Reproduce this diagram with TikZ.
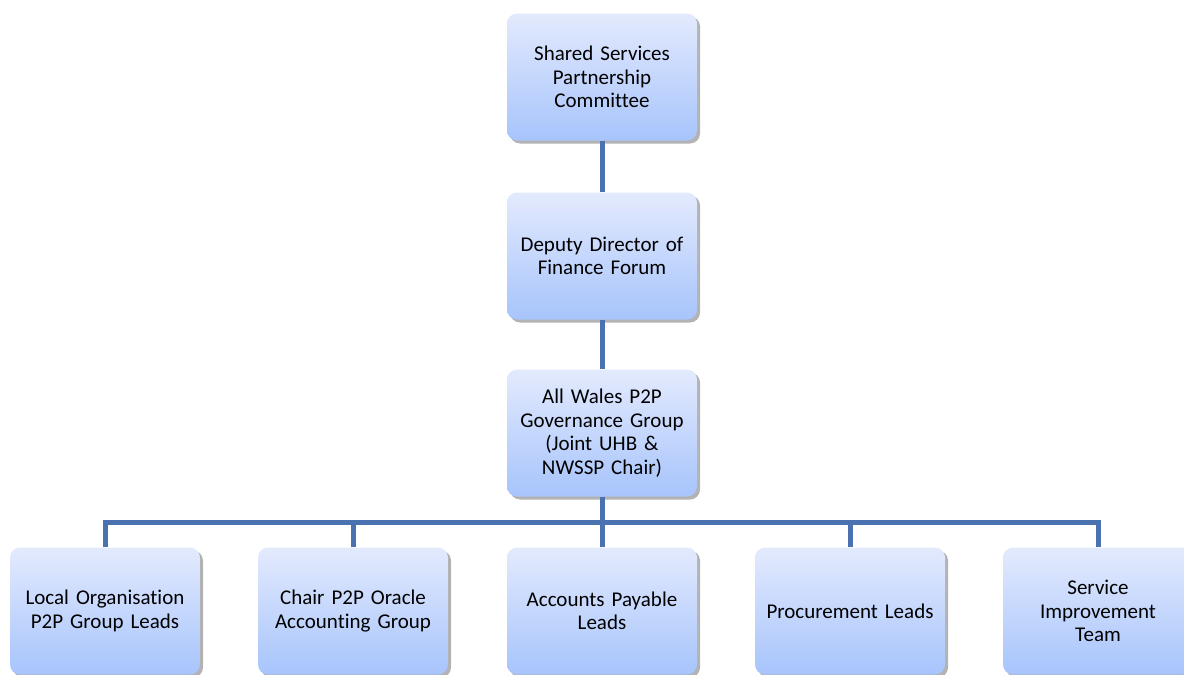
\documentclass[tikz,border=0pt]{standalone}
\usepackage{fontspec}
\setmainfont[Ligatures=NoCommon]{Carlito}
\usepackage{xcolor}
\usetikzlibrary{shadows}
\definecolor{boxtop}{RGB}{227,234,253}
\definecolor{boxbottom}{RGB}{167,196,252}
\definecolor{linkblue}{RGB}{74,114,176}
\tikzset{
  orgbox/.style={rounded corners=10pt, minimum width=190pt, minimum height=127pt,
    text width=180pt, align=center, top color=boxtop, bottom color=boxbottom,
    drop shadow={shadow xshift=3pt, shadow yshift=-3pt, fill=black!50, opacity=0.6},
    font=\fontsize{21}{23.5}\selectfont},
  link/.style={draw=linkblue, line width=5pt}
}

\begin{document}
\begin{tikzpicture}[x=1pt, y=-1pt]
    \useasboundingbox (0,0) rectangle (1184,675);
    \clip (0,0) rectangle (1184,675);
    % the chain down from the committee
    \node[orgbox] (ssp) at (602,77) {Shared Services\\Partnership\\Committee};
    \node[orgbox] (ddf) at (602,256) {Deputy Director of\\Finance Forum};
    \node[orgbox] (gov) at (602,433) {All Wales P2P\\Governance Group\\(Joint UHB \&\\NWSSP Chair)};
    % the groups reporting to the governance group
    \node[orgbox] (local) at (105,611) {Local Organisation\\P2P Group Leads};
    \node[orgbox] (chair) at (353,611) {Chair P2P Oracle\\Accounting Group};
    \node[orgbox] (ap) at (602,611) {Accounts Payable\\Leads};
    \node[orgbox] (proc) at (850,611) {Procurement Leads};
    \node[orgbox] (sit) at (1098,611) {Service\\Improvement\\Team};
    \coordinate (bus) at (602,522);
    \draw[link] (ssp) -- (ddf);
    \draw[link] (ddf) -- (gov);
    \draw[link] (gov) -- (ap);
    \draw[link] (local.north) -- (local.north |- bus) -- (sit.north |- bus) -- (sit.north);
    \foreach \n in {chair, proc}
        \draw[link] (\n.north) -- (\n.north |- bus);
\end{tikzpicture}
\end{document}
